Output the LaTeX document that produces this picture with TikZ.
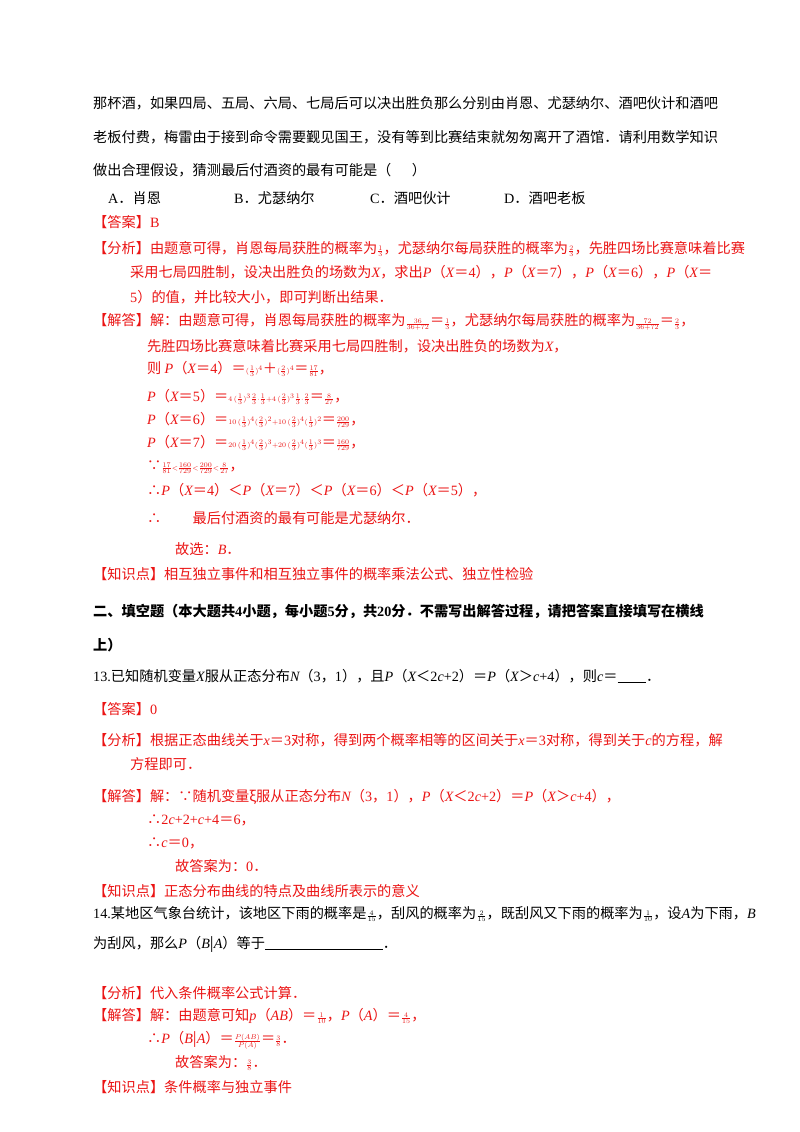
\documentclass[tikz,border=0pt]{standalone}
\usepackage{fontspec}
\setmainfont{Noto Sans CJK SC}
\newfontfamily\tm{Liberation Serif}
\newcommand\mi[1]{{\tm\itshape #1}}
\newcommand\rmn[1]{{\tm #1}}
\newcommand\fr[2]{$\scriptscriptstyle\frac{#1}{#2}$}
\definecolor{rd}{RGB}{235,20,20}
\begin{document}
\begin{tikzpicture}[x=1pt,y=-1pt,
  t/.style={anchor=west,inner sep=0pt,font=\fontsize{14.2}{16}\selectfont},
  r/.style={t,text=rd}]
\useasboundingbox (0,0) rectangle (800,1132);
\fill[white] (0,0) rectangle (800,1132);
\node[t] (l1) at (93,103) {那杯酒，如果四局、五局、六局、七局后可以决出胜负那么分别由肖恩、尤瑟纳尔、酒吧伙计和酒吧};
\node[t] (l2) at (93,137) {老板付费，梅雷由于接到命令需要觐见国王，没有等到比赛结束就匆匆离开了酒馆．请利用数学知识};
\node[t] (l3) at (93,170) {做出合理假设，猜测最后付酒资的最有可能是（\quad\ \ ）};
\node[t] (oa) at (108,198) {\rmn{A}．肖恩};
\node[t] (ob) at (234,198) {\rmn{B}．尤瑟纳尔};
\node[t] (oc) at (370,198) {\rmn{C}．酒吧伙计};
\node[t] (od) at (504,198) {\rmn{D}．酒吧老板};
\node[r] (a1) at (93,222) {【答案】\rmn{B}};
\node[r] (f1) at (93,249) {【分析】由题意可得，肖恩每局获胜的概率为\fr13，尤瑟纳尔每局获胜的概率为\fr23，先胜四场比赛意味着比赛};
\node[r] (f2) at (130,272) {采用七局四胜制，设决出胜负的场数为\mi{X}，求出\mi{P}（\mi{X}＝\rmn4），\mi{P}（\mi{X}＝\rmn7），\mi{P}（\mi{X}＝\rmn6），\mi{P}（\mi{X}＝};
\node[r] (f3) at (130,297) {\rmn5）的值，并比较大小，即可判断出结果．};
\node[r] (j1) at (93,322) {【解答】解：由题意可得，肖恩每局获胜的概率为\fr{36}{36+72}＝\fr13，尤瑟纳尔每局获胜的概率为\fr{72}{36+72}＝\fr23，};
\node[r] (j2) at (147,346) {先胜四场比赛意味着比赛采用七局四胜制，设决出胜负的场数为\mi{X}，};
\node[r] (j3) at (147,369) {则 \mi{P}（\mi{X}＝\rmn4）＝$\scriptscriptstyle(\frac13)^4$＋$\scriptscriptstyle(\frac23)^4$＝\fr{17}{81}，};
\node[r] (j4) at (147,397) {\mi{P}（\mi{X}＝\rmn5）＝$\scriptscriptstyle 4\,(\frac13)^3\frac23\cdot\frac13+4\,(\frac23)^3\frac13\cdot\frac23$＝\fr{8}{27}，};
\node[r] (j5) at (147,420) {\mi{P}（\mi{X}＝\rmn6）＝$\scriptscriptstyle 10\,(\frac13)^4(\frac23)^2+10\,(\frac23)^4(\frac13)^2$＝\fr{200}{729}，};
\node[r] (j6) at (147,443) {\mi{P}（\mi{X}＝\rmn7）＝$\scriptscriptstyle 20\,(\frac13)^4(\frac23)^3+20\,(\frac23)^4(\frac13)^3$＝\fr{160}{729}，};
\node[r] (j7) at (147,467) {∵$\scriptscriptstyle\frac{17}{81}<\frac{160}{729}<\frac{200}{729}<\frac{8}{27}$，};
\node[r] (j8) at (147,490) {∴\mi{P}（\mi{X}＝\rmn4）＜\mi{P}（\mi{X}＝\rmn7）＜\mi{P}（\mi{X}＝\rmn6）＜\mi{P}（\mi{X}＝\rmn5），};
\node[r] (j9) at (147,518) {∴\hspace{2.2em}最后付酒资的最有可能是尤瑟纳尔．};
\node[r] (j10) at (175,549) {故选：\mi{B}．};
\node[r] (k1) at (93,574) {【知识点】相互独立事件和相互独立事件的概率乘法公式、独立性检验};
\node[t,font=\fontsize{14.2}{16}\selectfont\bfseries] (s2) at (93,611) {二、填空题（本大题共\rmn{\bfseries 4}小题，每小题\rmn{\bfseries 5}分，共\rmn{\bfseries 20}分．不需写出解答过程，请把答案直接填写在横线};
\node[t,font=\fontsize{14.2}{16}\selectfont\bfseries] (s2b) at (93,645) {上）};
\node[t] (q13) at (93,676) {\rmn{13.}已知随机变量\mi{X}服从正态分布\mi{N}（\rmn3，\rmn1），且\mi{P}（\mi{X}＜\rmn{2}\mi{c}\rmn{+2}）＝\mi{P}（\mi{X}＞\mi{c}\rmn{+4}），则\mi{c}＝\underline{\hspace{2em}}．};
\node[r] (a13) at (93,709) {【答案】\rmn0};
\node[r] (f13) at (93,740) {【分析】根据正态曲线关于\mi{x}＝\rmn3对称，得到两个概率相等的区间关于\mi{x}＝\rmn3对称，得到关于\mi{c}的方程，解};
\node[r] (f13b) at (130,764) {方程即可．};
\node[r] (j13) at (93,797) {【解答】解：∵随机变量ξ服从正态分布\mi{N}（\rmn3，\rmn1），\mi{P}（\mi{X}＜\rmn2\mi{c}\rmn{+2}）＝\mi{P}（\mi{X}＞\mi{c}\rmn{+4}），};
\node[r] (j13b) at (147,820) {∴\rmn2\mi{c}\rmn{+2+}\mi{c}\rmn{+4}＝\rmn6，};
\node[r] (j13c) at (147,843) {∴\mi{c}＝\rmn0，};
\node[r] (j13d) at (175,866) {故答案为：\rmn0．};
\node[r] (k13) at (93,891) {【知识点】正态分布曲线的特点及曲线所表示的意义};
\node[t] (q14) at (93,914) {\rmn{14.}某地区气象台统计，该地区下雨的概率是\fr4{15}，刮风的概率为\fr2{15}，既刮风又下雨的概率为\fr1{10}，设\mi{A}为下雨，\mi{B}};
\node[t] (q14b) at (93,944) {为刮风，那么\mi{P}（\mi{B}|\mi{A}）等于\underline{\hspace{8.3em}}．};
\node[r] (f14) at (93,993) {【分析】代入条件概率公式计算．};
\node[r] (j14) at (93,1016) {【解答】解：由题意可知\mi{p}（\mi{AB}）＝\fr1{10}，\mi{P}（\mi{A}）＝\fr4{15}，};
\node[r] (j14b) at (147,1040) {∴\mi{P}（\mi{B}|\mi{A}）＝$\scriptscriptstyle\frac{P(AB)}{P(A)}$＝\fr38．};
\node[r] (j14c) at (175,1063) {故答案为：\fr38．};
\node[r] (k14) at (93,1087) {【知识点】条件概率与独立事件};
\end{tikzpicture}
\end{document}
